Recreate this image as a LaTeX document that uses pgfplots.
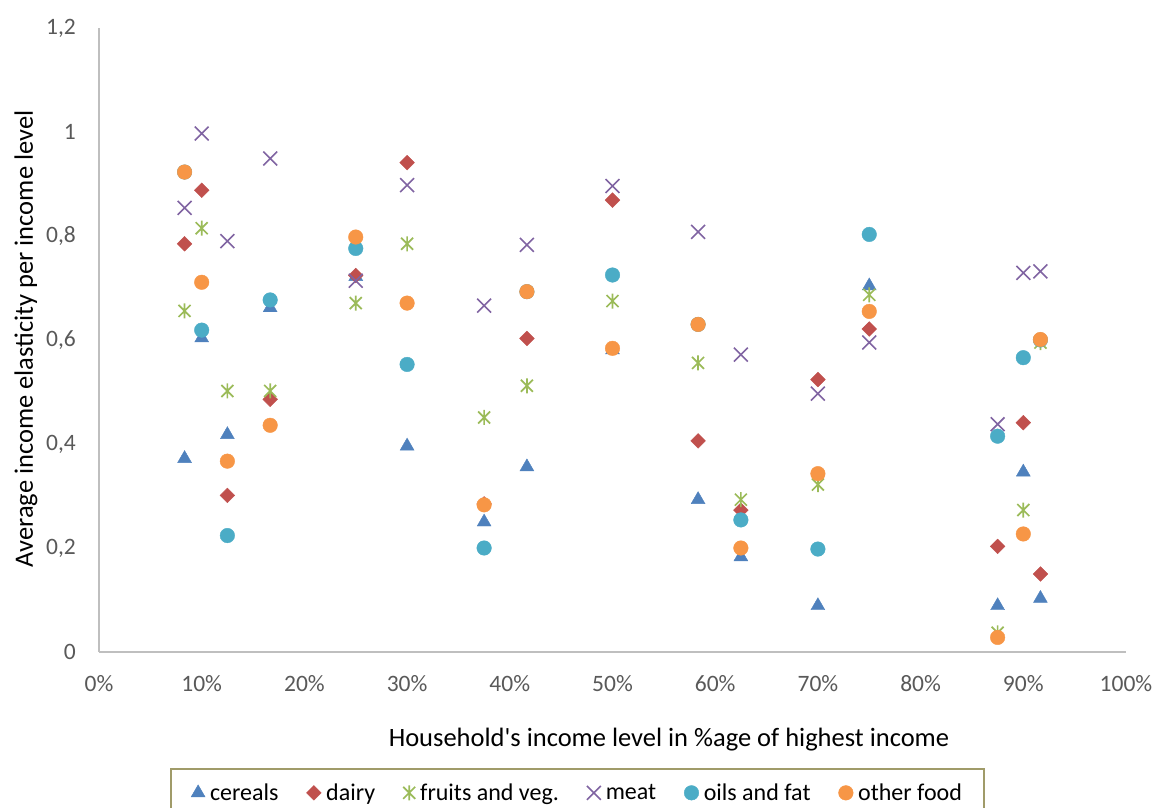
\documentclass[border=0pt]{standalone}
\usepackage{fontspec}
\setmainfont{Carlito}
\usepackage{pgfplots}
\pgfplotsset{compat=1.18}
\definecolor{cCer}{HTML}{4F81BD}
\definecolor{cDai}{HTML}{C0504D}
\definecolor{cFru}{HTML}{9BBB59}
\definecolor{cMea}{HTML}{8064A2}
\definecolor{cOil}{HTML}{4BACC6}
\definecolor{cOth}{HTML}{F79646}
\definecolor{tickgray}{HTML}{595959}
\definecolor{axgray}{HTML}{BFBFBF}
\definecolor{legborder}{RGB}{160,155,105}
\pgfdeclareplotmark{xstar}{%
  \pgfpathmoveto{\pgfqpoint{0pt}{\pgfplotmarksize}}%
  \pgfpathlineto{\pgfqpoint{0pt}{-\pgfplotmarksize}}%
  \pgfpathmoveto{\pgfqpoint{-0.8\pgfplotmarksize}{0.8\pgfplotmarksize}}%
  \pgfpathlineto{\pgfqpoint{0.8\pgfplotmarksize}{-0.8\pgfplotmarksize}}%
  \pgfpathmoveto{\pgfqpoint{-0.8\pgfplotmarksize}{-0.8\pgfplotmarksize}}%
  \pgfpathlineto{\pgfqpoint{0.8\pgfplotmarksize}{0.8\pgfplotmarksize}}%
  \pgfusepathqstroke}
\begin{document}
\begin{tikzpicture}
\begin{axis}[
  scale only axis, width=1027pt, height=624pt,
  xmin=0, xmax=1, ymin=0, ymax=1.2,
  clip=false,
  axis x line*=bottom, axis y line*=left,
  axis line style={draw=axgray, line width=1.5pt, -},
  tick style={draw=none},
  xtick={0,0.1,0.2,0.3,0.4,0.5,0.6,0.7,0.8,0.9,1},
  xticklabels={0\%,10\%,20\%,30\%,40\%,50\%,60\%,70\%,80\%,90\%,100\%},
  ytick={0,0.2,0.4,0.6,0.8,1,1.2},
  yticklabels={0,{0,2},{0,4},{0,6},{0,8},1,{1,2}},
  ticklabel style={font=\fontsize{23.5}{27}\selectfont, text=tickgray},
  xticklabel style={anchor=north, inner sep=0pt, yshift=-23pt},
  yticklabel style={anchor=east, inner sep=0pt, xshift=-23pt},
  xlabel={Household\textquotesingle s income level in \%age of highest income},
  xlabel style={at={(axis description cs:0.555,-0.1522)}, anchor=base, font=\fontsize{26.5}{31}\selectfont},
  ylabel={Average income elasticity per income level},
  ylabel style={at={(axis description cs:-0.0643,0.5016)}, anchor=base, font=\fontsize{26.5}{31}\selectfont},
  legend columns=6,
  legend style={at={(axis description cs:0.466,-0.1859)}, anchor=north,
    draw=legborder, line width=1.5pt, fill=white,
    font=\fontsize{24}{28}\selectfont,
    inner xsep=20pt, inner ysep=13pt,
    /tikz/every odd column/.append style={column sep=3pt},
    /tikz/every even column/.append style={column sep=26pt}},
]
\addplot[only marks, mark=triangle*, mark size=8pt, mark options={draw=cCer, fill=cCer, line width=0.4pt}] coordinates {
(0.08333,0.372) (0.1,0.604) (0.125,0.418) (0.16667,0.662) (0.25,0.722) (0.3,0.396)
(0.375,0.25) (0.41667,0.356) (0.5,0.581) (0.58333,0.293) (0.625,0.183) (0.7,0.089)
(0.75,0.704) (0.875,0.089) (0.9,0.346) (0.91667,0.103)};
\addlegendentry{cereals}
\addplot[only marks, mark=square*, mark size=5.2pt, mark options={rotate=45, draw=cDai, fill=cDai, line width=0.4pt}] coordinates {
(0.08333,0.785) (0.1,0.888) (0.125,0.301) (0.16667,0.486) (0.25,0.724) (0.3,0.941)
(0.375,0.285) (0.41667,0.603) (0.5,0.869) (0.58333,0.406) (0.625,0.273) (0.7,0.524)
(0.75,0.621) (0.875,0.203) (0.9,0.441) (0.91667,0.150)};
\addlegendentry{dairy}
\addplot[only marks, mark=xstar, mark size=7.5pt, mark options={draw=cFru, line width=1.7pt}] coordinates {
(0.08333,0.656) (0.1,0.815) (0.125,0.502) (0.16667,0.502) (0.25,0.671) (0.3,0.785)
(0.375,0.451) (0.41667,0.512) (0.5,0.675) (0.58333,0.556) (0.625,0.293) (0.7,0.322)
(0.75,0.687) (0.875,0.037) (0.9,0.273) (0.91667,0.595)};
\addlegendentry{fruits and veg.}
\addplot[only marks, mark=x, mark size=9.8pt, mark options={draw=cMea, line width=1.6pt}] coordinates {
(0.08333,0.854) (0.1,0.997) (0.125,0.790) (0.16667,0.949) (0.25,0.714) (0.3,0.898)
(0.375,0.666) (0.41667,0.783) (0.5,0.896) (0.58333,0.808) (0.625,0.572) (0.7,0.497)
(0.75,0.595) (0.875,0.438) (0.9,0.729) (0.91667,0.732)};
\addlegendentry{meat}
\addplot[only marks, mark=*, mark size=7.3pt, mark options={draw=cOil, fill=cOil, line width=0.4pt}] coordinates {
(0.08333,0.923) (0.1,0.619) (0.125,0.224) (0.16667,0.677) (0.25,0.776) (0.3,0.553)
(0.375,0.200) (0.41667,0.693) (0.5,0.725) (0.58333,0.630) (0.625,0.254) (0.7,0.198)
(0.75,0.803) (0.875,0.415) (0.9,0.566) (0.91667,0.600)};
\addlegendentry{oils and fat}
\addplot[only marks, mark=*, mark size=7.3pt, mark options={draw=cOth, fill=cOth, line width=0.4pt}] coordinates {
(0.08333,0.923) (0.1,0.711) (0.125,0.367) (0.16667,0.436) (0.25,0.798) (0.3,0.671)
(0.375,0.283) (0.41667,0.693) (0.5,0.584) (0.58333,0.630) (0.625,0.200) (0.7,0.343)
(0.75,0.655) (0.875,0.028) (0.9,0.227) (0.91667,0.601)};
\addlegendentry{other food}
\end{axis}
\pgfresetboundingbox
\path (-99pt,-155pt) rectangle (1057pt,652pt);
\end{tikzpicture}
\end{document}
